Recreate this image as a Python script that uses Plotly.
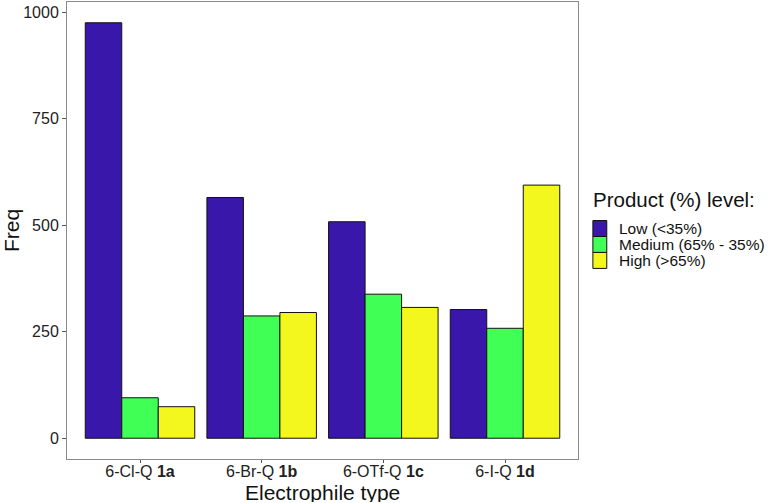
import plotly.graph_objects as go

categories = ["6-Cl-Q <b>1a</b>", "6-Br-Q <b>1b</b>", "6-OTf-Q <b>1c</b>", "6-I-Q <b>1d</b>"]
series_names = ["Low (<35%)", "Medium (65% - 35%)", "High (>65%)"]
low = [975, 565, 508, 302]
medium = [95, 287, 338, 258]
high = [74, 295, 307, 594]
colors = ["#3A17AB", "#40FF55", "#F4F71E"]
legend_title = "Product (%) level:"

FONT = "Liberation Sans, Arial, sans-serif"

# plot area geometry in pixels (used only to place the hand-drawn legend)
W, H = 776, 503
ML, MR, MT, MB = 63, 198, 1, 44
PW, PH = W - ML - MR, H - MT - MB


def px_x(px):
    return (px - ML) / PW


def px_y(py):
    return (H - MB - py) / PH


fig = go.Figure()
for name, vals, col in zip(series_names, [low, medium, high], colors):
    fig.add_trace(go.Bar(
        x=categories, y=vals, name=name, showlegend=False,
        marker=dict(color=col, line=dict(color="#111111", width=1)),
    ))

# legend (ggplot-style contiguous keys)
shapes = []
annotations = []
key_top = 220
key_h = 16
for i, (name, col) in enumerate(zip(series_names, colors)):
    y0 = key_top + i * key_h
    shapes.append(dict(
        type="rect", xref="paper", yref="paper",
        x0=px_x(593), x1=px_x(607), y0=px_y(y0 + key_h), y1=px_y(y0),
        fillcolor=col, line=dict(color="#111111", width=1),
    ))
    annotations.append(dict(
        xref="paper", yref="paper", x=px_x(618), y=px_y(y0 + key_h / 2),
        xanchor="left", yanchor="middle", text=name, showarrow=False,
        borderpad=0,
        font=dict(size=15.5, family=FONT, color="#111111"),
    ))
annotations.append(dict(
    xref="paper", yref="paper", x=px_x(591), y=px_y(199),
    xanchor="left", yanchor="middle", text=legend_title, showarrow=False,
    font=dict(size=20.5, family=FONT, color="#111111"),
))
annotations.append(dict(
    xref="paper", yref="paper", x=0.5, y=px_y(493),
    xanchor="center", yanchor="middle", text="Electrophile type", showarrow=False,
    height=19, borderpad=0,
    font=dict(size=21, family=FONT, color="#111111"),
))

fig.update_layout(
    width=W, height=H,
    margin=dict(l=ML, r=MR, t=MT, b=MB),
    paper_bgcolor="white", plot_bgcolor="white",
    barmode="group", bargap=0.1, bargroupgap=0,
    font=dict(family=FONT, color="#111111"),
    showlegend=False,
    shapes=shapes,
    annotations=annotations,
    xaxis=dict(
        range=[-0.6, 3.6],
        showline=True, linecolor="#8a8a8a", linewidth=1, mirror=True,
        showgrid=False, ticks="outside", ticklen=3, tickcolor="#555555",
        ticklabelstandoff=-5,
        tickfont=dict(size=16, family=FONT, color="#222222"),
    ),
    yaxis=dict(
        range=[-48.75, 1023.75],
        tickvals=[0, 250, 500, 750, 1000],
        showline=True, linecolor="#8a8a8a", linewidth=1, mirror=True,
        showgrid=False, zeroline=False, ticks="outside", ticklen=4, tickcolor="#555555",
        tickfont=dict(size=16, family=FONT, color="#222222"),
        title=dict(text="Freq", font=dict(size=21, family=FONT, color="#111111"), standoff=8),
    ),
)

fig.write_html("out.html")
